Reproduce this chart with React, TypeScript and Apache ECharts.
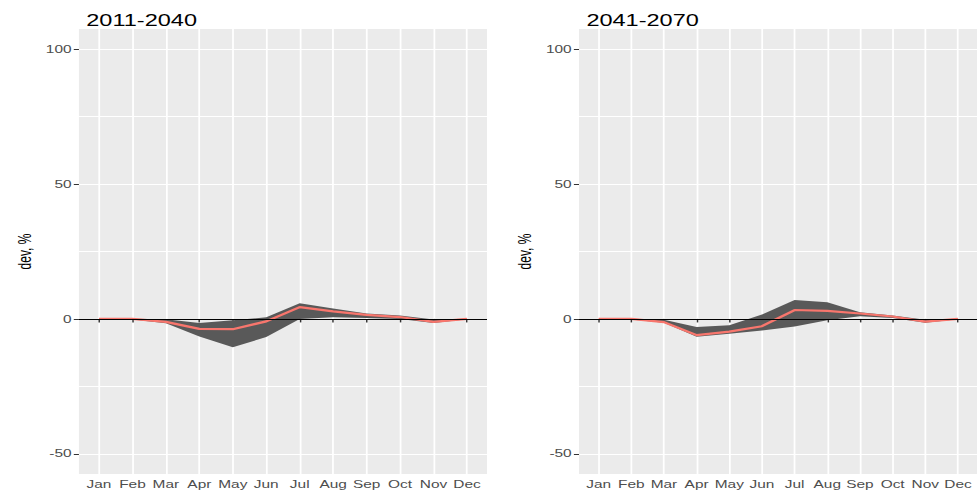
import React, { useEffect, useRef } from "react";
import * as echarts from "echarts";

// the reference image is stretched horizontally, so the chart is drawn narrow and scaled in x
const STRETCH = 1.47;
const INNER_W = 665;
const INNER_H = 492;

const months = ["Jan", "Feb", "Mar", "Apr", "May", "Jun", "Jul", "Aug", "Sep", "Oct", "Nov", "Dec"];
const panelTitles = ["2011-2040", "2041-2070"];

// 2011-2040
const mean1 = [0, 0, -1.1, -3.7, -3.8, -0.9, 4.4, 2.8, 1.5, 0.7, -1.1, 0];
const lower1 = [0, -0.2, -1.6, -6.5, -10.5, -6.7, 0, 0.6, 0.3, 0, -1.5, -0.1];
const upper1 = [0, 0.1, -0.1, -1.5, -0.5, 0.6, 5.8, 3.9, 2.0, 1.3, -0.2, 0.1];

// 2041-2070
const mean2 = [0, 0, -1.2, -6.0, -4.7, -2.7, 3.3, 3.0, 2.0, 0.9, -1.0, 0];
const lower2 = [0, -0.2, -1.4, -6.6, -5.5, -4.3, -2.8, -0.5, 1.0, 0.3, -1.4, -0.1];
const upper2 = [0, 0.1, -0.3, -3.0, -2.3, 1.6, 7.0, 6.2, 2.5, 1.3, -0.3, 0.1];

const yTicks = [-50, 0, 50, 100];
const yMinor = [-25, 25, 75];
const monthPos = months.map((_, i) => i + 1);

const FONT = "Liberation Sans, Arial, sans-serif";

export default function App() {
  const chartRef = useRef<HTMLDivElement>(null);

  useEffect(() => {
    if (!chartRef.current) return;
    const chart = echarts.init(chartRef.current, null, { renderer: "svg" });

    const panels = [
      { mean: mean1, lower: lower1, upper: upper1 },
      { mean: mean2, lower: lower2, upper: upper2 },
    ];
    const gridLeft = [53.7, 393.9];

    const series: any[] = [];
    panels.forEach((p, i) => {
      // ribbon between lower and upper, drawn once as one polygon
      series.push({
        type: "custom",
        xAxisIndex: i,
        yAxisIndex: i,
        silent: true,
        data: p.lower.map((v, k) => [monthPos[k], v, p.upper[k]]),
        encode: { x: 0, y: [1, 2] },
        renderItem: (params: any, api: any) => {
          if (params.dataIndex !== 0) return null;
          const top = p.upper.map((v, k) => api.coord([monthPos[k], v]));
          const bottom = p.lower.map((v, k) => api.coord([monthPos[k], v])).reverse();
          return {
            type: "polygon",
            shape: { points: top.concat(bottom) },
            style: { fill: "#595959" },
          };
        },
      });
      series.push({
        type: "line",
        xAxisIndex: i,
        yAxisIndex: i,
        symbol: "none",
        silent: true,
        lineStyle: { color: "#F8766D", width: 2.2 },
        data: p.mean.map((v, k) => [monthPos[k], v]),
        markLine: {
          silent: true,
          symbol: "none",
          label: { show: false },
          lineStyle: { color: "#000000", width: 1, type: "solid" },
          data: [
            ...yMinor.map((v) => ({
              yAxis: v,
              lineStyle: { color: "#ffffff", width: 0.8, type: "solid" },
            })),
            { yAxis: 0 },
          ],
        },
      });
    });

    chart.setOption({
      animation: false,
      title: panelTitles.map((t, i) => ({
        text: t,
        left: gridLeft[i],
        top: 7,
        textStyle: { fontFamily: FONT, fontSize: 16, fontWeight: "normal", color: "#000" },
      })),
      grid: gridLeft.map((l) => ({
        left: l,
        top: 29,
        width: 277.6,
        height: 445,
        show: true,
        backgroundColor: "#EBEBEB",
        borderWidth: 0,
      })),
      xAxis: gridLeft.map((_, i) => ({
        type: "value",
        gridIndex: i,
        min: 0.4,
        max: 12.6,
        axisLine: { show: false },
        axisTick: { show: true, customValues: monthPos, length: 3.5, lineStyle: { color: "#333333" } },
        axisLabel: {
          customValues: monthPos,
          formatter: (v: number) => months[Math.round(v) - 1] ?? "",
          margin: 5,
          fontFamily: FONT,
          fontSize: 10.5,
          color: "#4D4D4D",
        },
        splitLine: { show: true, lineStyle: { color: "#ffffff", width: 1.2 } },
      })),
      yAxis: gridLeft.map((_, i) => ({
        type: "value",
        gridIndex: i,
        min: -57.5,
        max: 107.5,
        name: "dev, %",
        nameLocation: "middle",
        nameGap: 31,
        nameTextStyle: { fontFamily: FONT, fontSize: 12, color: "#000" },
        axisLine: { show: false },
        axisTick: { show: true, customValues: yTicks, length: 3.5, lineStyle: { color: "#333333" } },
        axisLabel: {
          customValues: yTicks,
          margin: 5,
          fontFamily: FONT,
          fontSize: 10.5,
          color: "#4D4D4D",
        },
        splitLine: { show: true, lineStyle: { color: "#ffffff", width: 1 } },
      })),
      series,
    });

    return () => {
      chart.dispose();
    };
  }, []);

  return (
    <div style={{ position: "fixed", left: 0, top: 0, width: 977, height: 492, overflow: "hidden", background: "#fff" }}>
      <div
        ref={chartRef}
        style={{
          width: INNER_W,
          height: INNER_H,
          transform: `scaleX(${STRETCH})`,
          transformOrigin: "0 0",
        }}
      />
    </div>
  );
}
